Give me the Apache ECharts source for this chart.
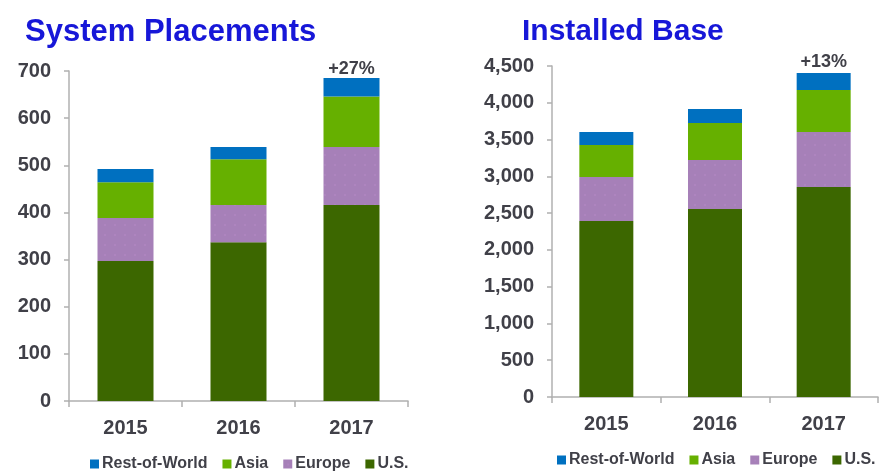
<!DOCTYPE html>
<html>
<head>
<meta charset="utf-8">
<script src="https://cdn.jsdelivr.net/npm/echarts@6/dist/echarts.min.js"></script>
<style>
html,body{margin:0;padding:0;background:#fff;}
#c{width:882px;height:471px;}
</style>
</head>
<body>
<div id="c"></div>
<script>
const years = ['2015', '2016', '2017'];
const seriesNames = ['Rest-of-World', 'Asia', 'Europe', 'U.S.'];

// System Placements (units)
const placeUS = [297, 337, 416];
const placeEurope = [91, 79, 123];
const placeAsia = [76, 97, 107];
const placeRoW = [28, 26, 39];
const placeGrowth = ['', '', '+27%'];
const placeTicks = [0, 700, 100];

// Installed Base (units)
const baseUS = [2393, 2556, 2855];
const baseEurope = [598, 666, 748];
const baseAsia = [435, 503, 570];
const baseRoW = [177, 190, 232];
const baseGrowth = ['', '', '+13%'];
const baseTicks = [0, 4500, 500];

const colors = {'Rest-of-World': '#0070C0', 'Asia': '#66B000', 'Europe': '#A680B8', 'U.S.': '#3C6700'};
const FONT = '"Liberation Sans", Arial, sans-serif';
const TXT = '#404048';

function xAxis(gi) {
  return {
    type: 'category', gridIndex: gi, data: years,
    axisLine: {lineStyle: {color: '#b0b0b0', width: 1.5}},
    axisTick: {show: true, length: 6, lineStyle: {color: '#b0b0b0', width: 1.5}},
    axisLabel: {color: TXT, fontFamily: FONT, fontWeight: 'bold', fontSize: 20, margin: 17}
  };
}
function yAxis(gi, t, fmt) {
  return {
    type: 'value', gridIndex: gi, min: t[0], max: t[1], interval: t[2],
    axisLine: {show: true, lineStyle: {color: '#b0b0b0', width: 1.5}},
    axisTick: {show: true, length: 5, lineStyle: {color: '#b0b0b0', width: 1.5}},
    splitLine: {show: false},
    axisLabel: {color: TXT, fontFamily: FONT, fontWeight: 'bold', fontSize: 20, margin: 18, formatter: fmt}
  };
}
function bar(name, data, gi, stack, width, growth, dist) {
  const s = {
    name: name, type: 'bar', xAxisIndex: gi, yAxisIndex: gi, stack: stack,
    data: data, barWidth: width, itemStyle: {color: colors[name]},
    emphasis: {disabled: true}
  };
  if (name === 'Europe') {
    s.itemStyle.decal = {symbol: 'circle', symbolSize: 0.15, color: 'rgba(210,150,230,0.45)',
      dashArrayX: [10, 0], dashArrayY: [10, 0], rotation: 0};
  }
  if (growth) {
    s.label = {
      show: true, position: 'top', distance: dist,
      color: TXT, fontFamily: FONT, fontWeight: 'bold', fontSize: 18,
      formatter: p => growth[p.dataIndex]
    };
  }
  return s;
}
function legend(left, top) {
  return {
    data: seriesNames, left: left, top: top, icon: 'rect', itemWidth: 9, itemHeight: 9,
    itemGap: 15, selectedMode: false,
    textStyle: {color: TXT, fontFamily: FONT, fontWeight: 'bold', fontSize: 16, padding: [0, 0, 0, -2]}
  };
}

const fmtComma = v => v.toLocaleString('en-US');

const option = {
  animation: false,
  title: [
    {text: 'System Placements', left: 20, top: 12, textStyle: {color: '#1717d8', fontFamily: FONT, fontWeight: 'bold', fontSize: 31}},
    {text: 'Installed Base', left: 517, top: 12, textStyle: {color: '#1717d8', fontFamily: FONT, fontWeight: 'bold', fontSize: 30}}
  ],
  legend: [legend(85, 451), legend(552, 447)],
  grid: [
    {left: 69, top: 71, width: 339, height: 330},
    {left: 552, top: 66, width: 326, height: 331}
  ],
  xAxis: [xAxis(0), xAxis(1)],
  yAxis: [yAxis(0, placeTicks, v => v), yAxis(1, baseTicks, fmtComma)],
  series: [
    bar('U.S.', placeUS, 0, 'a', 56),
    bar('Europe', placeEurope, 0, 'a', 56),
    bar('Asia', placeAsia, 0, 'a', 56),
    bar('Rest-of-World', placeRoW, 0, 'a', 56, placeGrowth, 0),
    bar('U.S.', baseUS, 1, 'b', 54),
    bar('Europe', baseEurope, 1, 'b', 54),
    bar('Asia', baseAsia, 1, 'b', 54),
    bar('Rest-of-World', baseRoW, 1, 'b', 54, baseGrowth, 2)
  ]
};
const chart = echarts.init(document.getElementById('c'));
chart.setOption(option);
</script>
</body>
</html>
